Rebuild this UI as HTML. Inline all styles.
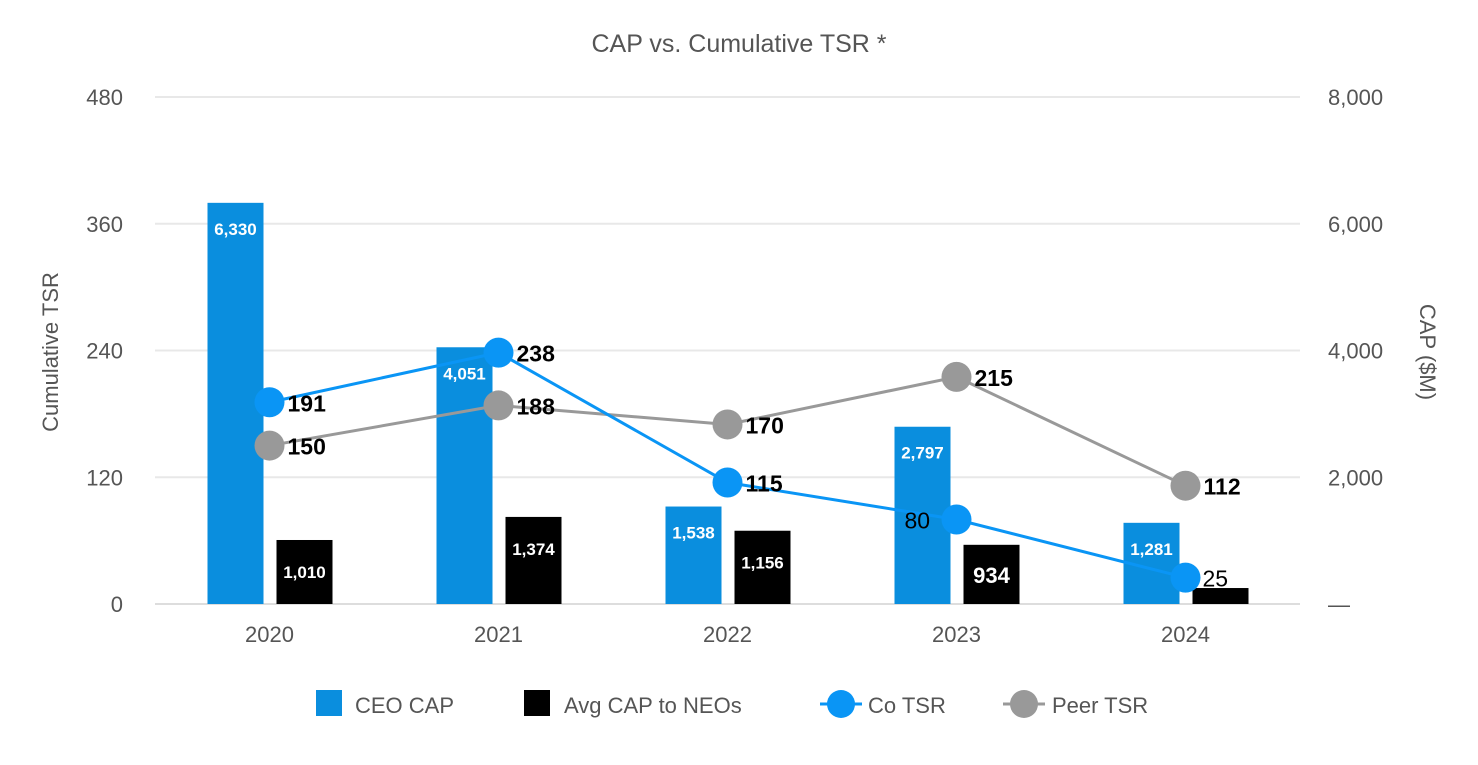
<!DOCTYPE html>
<html><head><meta charset="utf-8"><style>
body{margin:0;background:#fff;font-family:"Liberation Sans",sans-serif;}
svg text{font-family:"Liberation Sans",sans-serif;}
</style></head><body>
<svg id="c" width="1478" height="760" xmlns="http://www.w3.org/2000/svg">
<text x="739" y="52" text-anchor="middle" font-size="25" fill="#555">CAP vs. Cumulative TSR *</text>
<text transform="translate(58,352) rotate(-90)" text-anchor="middle" font-size="22" fill="#555">Cumulative TSR</text>
<text transform="translate(1420,352) rotate(90)" text-anchor="middle" font-size="22" fill="#555">CAP ($M)</text>
<g id="legend">
<rect x="316" y="690" width="26" height="26" fill="#0a8ede"/>
<text x="355" y="713" font-size="22" fill="#555">CEO CAP</text>
<rect x="524" y="690" width="26" height="26" fill="#000"/>
<text x="564" y="713" font-size="22" fill="#555">Avg CAP to NEOs</text>
<line x1="820" y1="704" x2="862" y2="704" stroke="#0a95f5" stroke-width="3"/>
<circle cx="841" cy="704" r="14" fill="#0a95f5"/>
<text x="868" y="713" font-size="22" fill="#555">Co TSR</text>
<line x1="1003" y1="704" x2="1045" y2="704" stroke="#999" stroke-width="3"/>
<circle cx="1024" cy="704" r="14" fill="#999"/>
<text x="1052" y="713" font-size="22" fill="#555">Peer TSR</text>
</g>
</svg>
<script>
const categories=["2020","2021","2022","2023","2024"];
const ceoCap=[6330,4051,1538,2797,1281];
const neoCap=[1010,1374,1156,934,252];
const coTsr=[191,238,115,80,25];
const peerTsr=[150,188,170,215,112];
const leftTicks=[0,120,240,360,480];
const rightTicks=["—","2,000","4,000","6,000","8,000"];
const rightTickVals=[0,2000,4000,6000,8000];
const NS="http://www.w3.org/2000/svg";
const svg=document.getElementById('c');
const plotL=155,plotR=1300,y0=604,y1=97;
const band=(plotR-plotL)/categories.length;
const xc=i=>plotL+band*(i+0.5);
const yL=v=>y0-v/480*(y0-y1);
const yR=v=>y0-v/8000*(y0-y1);
function mk(t,a,p){const e=document.createElementNS(NS,t);for(const k in a)e.setAttribute(k,a[k]);(p||svg).appendChild(e);return e;}
const fmt=v=>v.toLocaleString('en-US');
leftTicks.forEach((t,i)=>{
 const g=mk('line',{x1:plotL,x2:plotR,y1:yL(t),y2:yL(t),stroke:i==0?'#ddd':'#e8e8e8','stroke-width':2});
 
 
 const tx=mk('text',{x:123,y:yL(t)+8,'text-anchor':'end','font-size':22,fill:'#555'});tx.textContent=t;
 
 
});
rightTickVals.forEach((t,i)=>{
 const tx=mk('text',{x:1328,y:yR(t)+8,'font-size':22,fill:'#555'});tx.textContent=rightTicks[i];
 
 
});
categories.forEach((c,i)=>{
 const tx=mk('text',{x:xc(i),y:642,'text-anchor':'middle','font-size':22,fill:'#555'});tx.textContent=c;
 
 
 const bw=56;
 const b1=mk('rect',{x:xc(i)-62,y:yR(ceoCap[i]),width:bw,height:y0-yR(ceoCap[i]),fill:'#0a8ede'});
 
 
 const b2=mk('rect',{x:xc(i)+7,y:yR(neoCap[i]),width:bw,height:y0-yR(neoCap[i]),fill:'#000'});
 
 
 const l1=mk('text',{x:xc(i)-34,y:yR(ceoCap[i])+32,'text-anchor':'middle','font-size':17,'font-weight':'bold',fill:'#fff'});l1.textContent=fmt(ceoCap[i]);
 
 
 const big=neoCap[i]<1000;
 const small=(y0-yR(neoCap[i]))<40;
 const l2=mk('text',{x:xc(i)+35,y:small?y0-3:yR(neoCap[i])+38,'text-anchor':'middle','font-size':small?12:(big?22:17),'font-weight':'bold',fill:small?'#000':'#fff'});l2.textContent=fmt(neoCap[i]);
 
 
});
function series(vals,color,name,bold){
 const pts=vals.map((v,i)=>xc(i)+','+yL(v)).join(' ');
 const pl=mk('polyline',{points:pts,fill:'none',stroke:color,'stroke-width':3});
 
 
 vals.forEach((v,i)=>{
  const c=mk('circle',{cx:xc(i),cy:yL(v),r:15,fill:color});
  
  
  const b=bold[i];
  const t=mk('text',{x:xc(i)+(b?18:(i==3?-52:17)),y:yL(v)+9,'font-size':23,'font-weight':b?'bold':'normal',fill:'#000'});t.textContent=v;
  
  
 });
}
series(peerTsr,'#999','peer-tsr',[1,1,1,1,1]);
series(coTsr,'#0a95f5','co-tsr',[1,1,1,0,0]);
</script>
</body></html>
